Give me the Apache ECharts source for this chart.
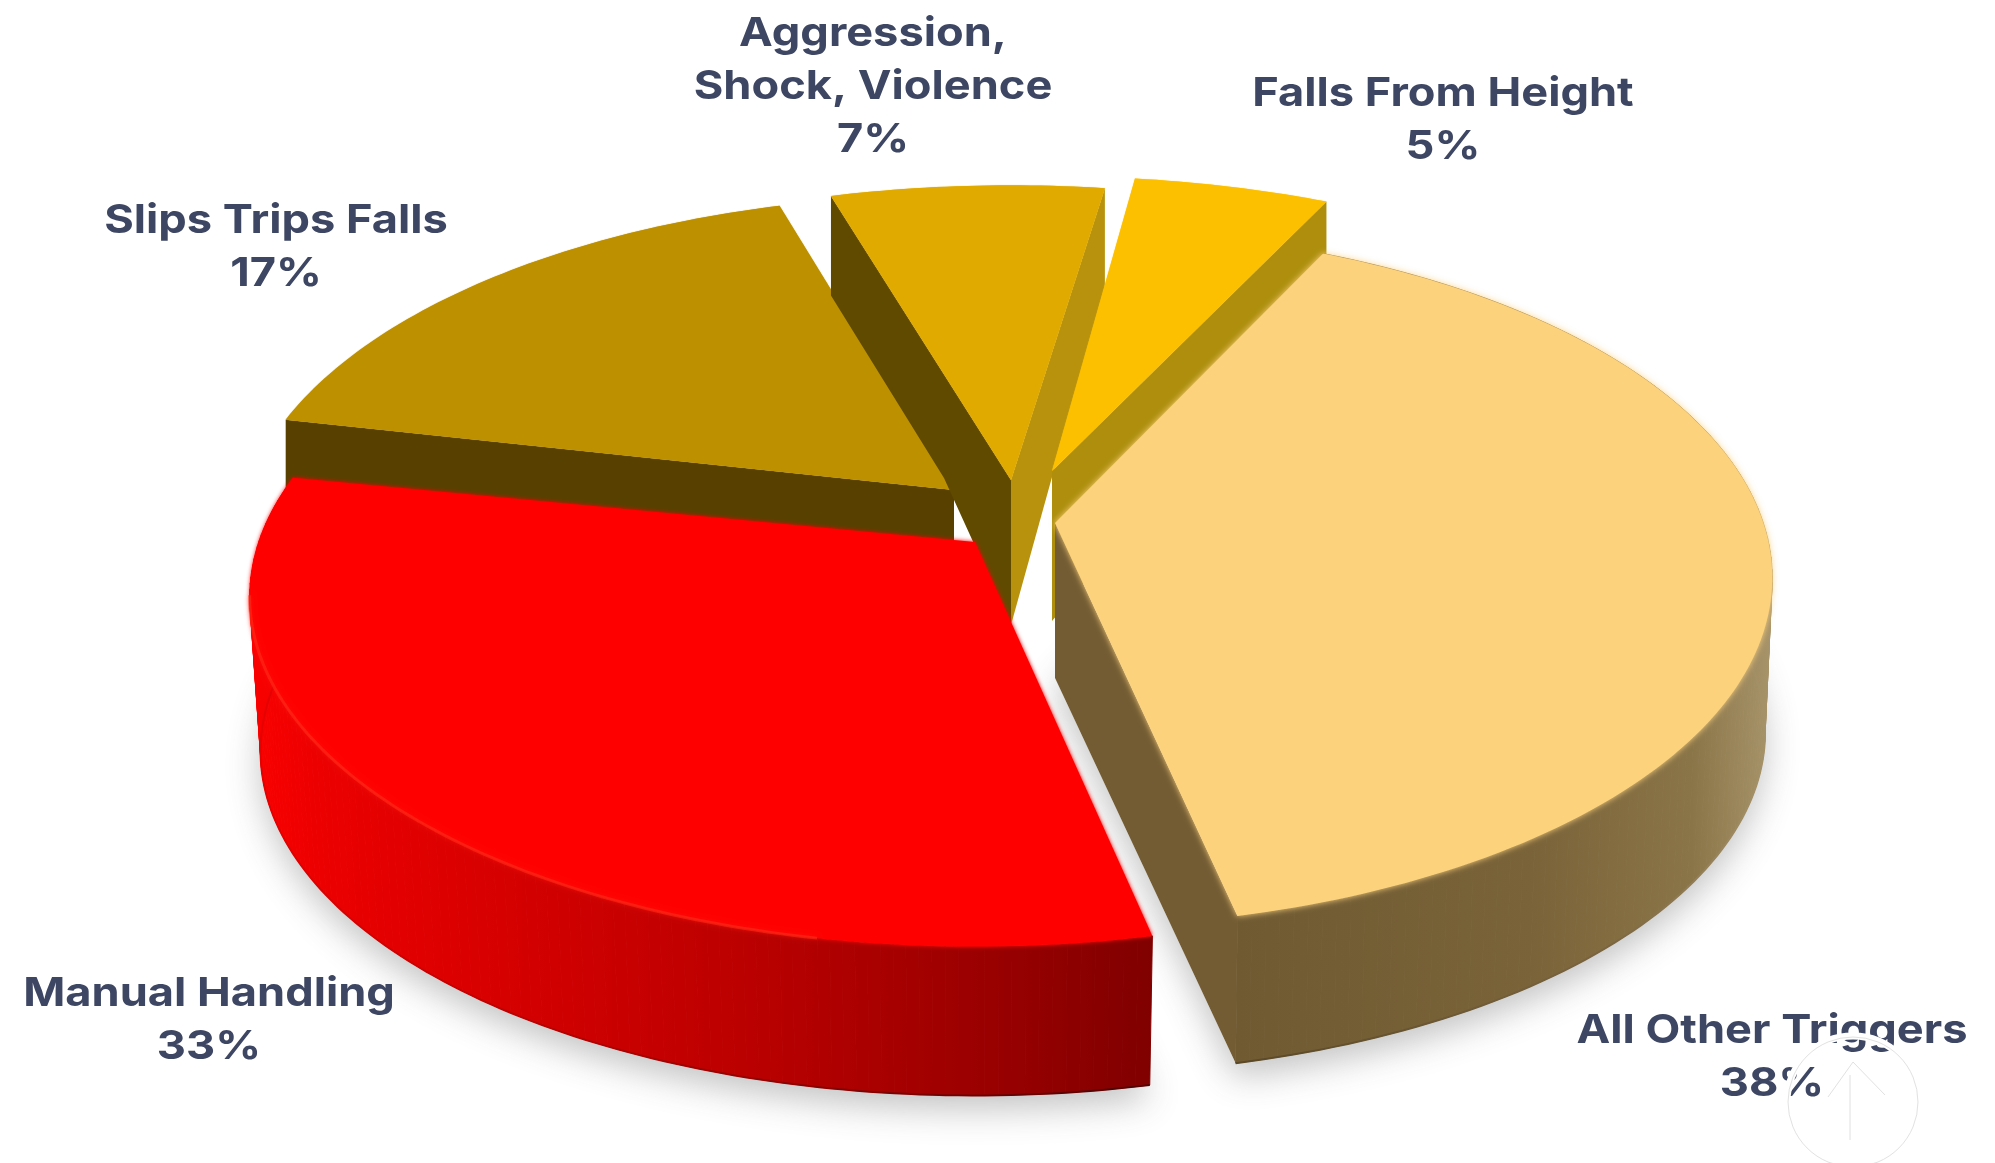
<!DOCTYPE html>
<html>
<head>
<meta charset="utf-8">
<title>Injury triggers</title>
<style>html,body{margin:0;padding:0;background:#fff}#chart{width:1995px;height:1163px}</style>
<script src="https://cdn.jsdelivr.net/npm/echarts@6/dist/echarts.min.js"></script>
</head>
<body>
<div id="chart"></div>
<script>
// Clockwise from the left edge of the pie, which is also back-to-front paint order.
const categories = ['Slips Trips Falls', 'Aggression,\nShock, Violence', 'Falls From Height', 'All Other Triggers', 'Manual Handling'];
const shares = [17, 7, 5, 38, 33];

// Top-face colours
const topColors = ['#bd9000', '#e0aa00', '#fcc000', '#fcd27d', '#fe0000'];
// Exploded position of each wedge tip on the page
const tipX = [954, 1011, 1052, 1055, 975];
const tipY = [490, 480, 471, 523, 542];
// Radius tweak per wedge
const reach = [0.975, 1, 1, 0.977, 0.988];
// Rotation of a wedge on its tip, and how far its front boundary leans
const turn = [1.1, 1, 0, 0, 0];
const lean = [0, 0, 0, 5, 5.5];
// Lower face: drop below the tip and scale relative to the top face
const baseDrop = [125, 145, 150, 155, 155];
const baseScaleX = [1, 1, 1, 0.99, 0.985];
const baseScaleY = [1.1, 1.16, 1.2, 0.98, 0.985];
// Cut faces that look towards the viewer (null when hidden)
const startWall = ['#574000', '#604a00', null, null, null];
const endWall = [null, '#b8920c', '#ae8e0c', '#735c33', null];
// Kink in the lower edge of a start wall, relative to the tip
const wallBend = [null, [-67, -2], null, null, null];
// Curved rim stops, left to right (null when hidden)
const rimStops = [null, null, null,
  [[0, '#6f5a32'], [0.55, '#7a6338'], [0.85, '#8a7548'], [1, '#a8946a']],
  [[0, '#fa0000'], [0.08, '#ec0000'], [0.3, '#d40000'], [0.55, '#bb0000'], [0.85, '#960000'], [1, '#800000']]];
const edgeStops = [null, null, null,
  [[0, '#5a4826'], [0.7, '#7a6540'], [1, '#a8946a']],
  [[0, '#e80000'], [0.5, '#a00000'], [1, '#520000']]];
// Softening of the top-face edge
const topSoftness = [1, 1, 1, 6, 4];
// Label anchors
const labelX = [276, 873, 1443, 1772, 209];
const labelY = [247, 87, 120, 1057, 1020];

const pieStart = 281.2;          // degrees clockwise from the back of the pie
const camera = { rx: 725, ry: 341, k: 0.157 };
const textColor = '#3d4662';

// The photographed pie leans slightly, so the front boundary sits a little further round.
function leanAngle(deg, i) {
  const a = ((deg % 360) + 360) % 360;
  const t = (a - 163) / 35;
  return deg + turn[i] + lean[i] * Math.exp(-t * t);
}

// Wedge start angles from the shares
const total = shares.reduce((s, v) => s + v, 0);
const wedgeStart = [];
shares.reduce((acc, v, i) => { wedgeStart[i] = acc; return acc + v / total * 360; }, pieStart);

// Perspective view of a point on the pie's unit circle, relative to the tip.
function rimPoint(deg, i) {
  const r = leanAngle(deg, i) * Math.PI / 180;
  const u = Math.sin(r), v = -Math.cos(r), w = 1 - camera.k * v;
  return [camera.rx * reach[i] * u / w, camera.ry * v / w];
}
const toTop = (p, i) => [tipX[i] + p[0], tipY[i] + p[1]];
const toBase = (p, i) => [tipX[i] + p[0] * baseScaleX[i], tipY[i] + baseDrop[i] + p[1] * baseScaleY[i]];

function arcOf(value, i) {
  const from = wedgeStart[i], sweep = value / total * 360, pts = [];
  const n = Math.max(8, Math.ceil(sweep));
  for (let j = 0; j <= n; j++) pts.push(rimPoint(from + sweep * j / n, i));
  return pts;
}

function renderWedge(params, api) {
  const i = params.dataIndex, value = api.value(0), arc = arcOf(value, i);
  const tipTop = [tipX[i], tipY[i]], tipBase = [tipX[i], tipY[i] + baseDrop[i]];
  const topArc = arc.map(p => toTop(p, i)), baseArc = arc.map(p => toBase(p, i));
  const children = [];

  if (rimStops[i]) {
    const xs = topArc.map(p => p[0]).concat(baseArc.map(p => p[0]));
    const x0 = Math.min.apply(null, xs), x1 = Math.max.apply(null, xs);
    const gradient = stops => new echarts.graphic.LinearGradient(x0, 0, x1, 0,
      stops.map(s => ({ offset: s[0], color: s[1] })), true);
    const rimFill = gradient(rimStops[i]);
    // Rim as a strip of quads so the silhouette stays tangent where the faces cross
    for (let j = 0; j < topArc.length - 1; j++) {
      children.push({
        type: 'polygon',
        shape: { points: [topArc[j], topArc[j + 1], baseArc[j + 1], baseArc[j]] },
        style: { fill: rimFill, stroke: rimFill, lineWidth: 1 }
      });
    }
    children.push({
      type: 'polyline', shape: { points: baseArc },
      style: { fill: null, stroke: gradient(edgeStops[i]), lineWidth: 2 }
    });
  }
  if (startWall[i]) {
    const bend = wallBend[i] ? [[tipX[i] + wallBend[i][0], tipY[i] + wallBend[i][1]]] : [];
    children.push({
      type: 'polygon',
      shape: { points: [tipTop, topArc[0], baseArc[0]].concat(bend, [tipBase]) },
      style: { fill: startWall[i] }
    });
  }
  if (endWall[i]) {
    const n = topArc.length - 1;
    children.push({
      type: 'polygon',
      shape: { points: [tipTop, topArc[n], baseArc[n], tipBase] },
      style: { fill: endWall[i] }
    });
  }
  children.push({
    type: 'polygon', shape: { points: [tipTop].concat(topArc) },
    style: { fill: topColors[i], shadowBlur: topSoftness[i], shadowColor: topColors[i] }
  });
  if (i === 4) {
    // bevel glint along the red rim
    children.push({
      type: 'polyline', shape: { points: topArc.slice(25, 100) },
      style: { fill: null, stroke: 'rgba(255,48,28,0.55)', lineWidth: 3, shadowBlur: 5, shadowColor: 'rgba(255,48,28,0.5)' }
    });
  }
  children.push({
    type: 'text',
    x: labelX[i], y: labelY[i], scaleX: 1.13,
    style: {
      text: categories[i] + '\n' + value + '%',
      x: 0, y: 0, align: 'center', verticalAlign: 'middle',
      font: '700 40px Inter, "Open Sans", sans-serif', lineHeight: 53, fill: textColor
    }
  });
  return { type: 'group', children: children };
}

// Soft shadow the two front wedges throw on the page
function renderShadow(params, api) {
  const i = params.dataIndex;
  if (!rimStops[i]) return { type: 'group', children: [] };
  const base = arcOf(api.value(0), i).map(p => toBase(p, i));
  return {
    type: 'polygon',
    shape: { points: [[tipX[i], tipY[i] + baseDrop[i]]].concat(base) },
    style: { fill: '#fff', shadowBlur: 34, shadowOffsetY: 14, shadowColor: 'rgba(70,70,70,0.32)' }
  };
}

const rows = shares.map((v, i) => ({ name: categories[i].replace('\n', ' '), value: [v, i] }));
const chart = echarts.init(document.getElementById('chart'), null, { renderer: 'canvas' });
chart.setOption({
  animation: false,
  backgroundColor: '#ffffff',
  series: [
    { type: 'custom', name: 'shadow', coordinateSystem: 'none', silent: true, z: 1, renderItem: renderShadow, data: rows },
    { type: 'custom', name: 'wedges', coordinateSystem: 'none', silent: true, z: 2, renderItem: renderWedge, data: rows }
  ],
  // Page-corner scroll button sitting over the chart
  graphic: [
    { type: 'circle', z: 20, silent: true, shape: { cx: 1853, cy: 1102, r: 66 }, style: { fill: null, stroke: '#ffffff', lineWidth: 7 } },
    { type: 'circle', z: 21, silent: true, shape: { cx: 1853, cy: 1102, r: 65 }, style: { fill: null, stroke: 'rgba(200,200,200,0.55)', lineWidth: 1 } },
    { type: 'polyline', z: 21, silent: true, shape: { points: [[1828, 1097], [1853, 1062], [1885, 1095]] }, style: { fill: null, stroke: 'rgba(205,205,205,0.6)', lineWidth: 1 } },
    { type: 'polyline', z: 21, silent: true, shape: { points: [[1850, 1075], [1850, 1140]] }, style: { fill: null, stroke: 'rgba(205,205,205,0.6)', lineWidth: 1 } }
  ]
});
</script>
</body>
</html>
